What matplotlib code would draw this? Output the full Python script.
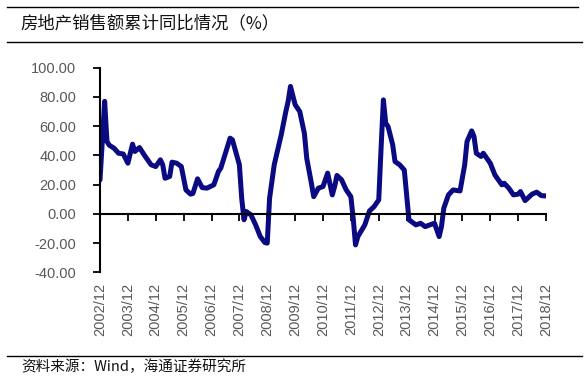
import matplotlib
matplotlib.use("Agg")
import matplotlib.pyplot as plt
from matplotlib.lines import Line2D

plt.rcParams['font.family'] = ['Liberation Sans', 'Noto Sans CJK SC', 'DejaVu Sans']

dates = ["2002-12", "2003-02", "2003-03", "2003-04", "2003-06", "2003-08", "2003-10", "2003-12",
         "2004-02", "2004-03", "2004-05", "2004-07", "2004-10", "2004-12",
         "2005-02", "2005-03", "2005-04", "2005-06", "2005-07", "2005-09", "2005-11",
         "2006-01", "2006-03", "2006-04", "2006-06", "2006-08", "2006-10",
         "2007-01", "2007-03", "2007-04", "2007-06", "2007-08", "2007-09", "2007-12",
         "2008-01", "2008-02", "2008-03", "2008-05", "2008-07", "2008-09", "2008-11", "2008-12",
         "2009-01", "2009-03", "2009-06", "2009-08", "2009-09", "2009-10", "2009-12",
         "2010-02", "2010-04", "2010-05", "2010-07", "2010-08", "2010-10", "2010-12",
         "2011-02", "2011-04", "2011-05", "2011-06", "2011-08", "2011-10", "2011-12",
         "2012-01", "2012-02", "2012-03", "2012-06", "2012-08", "2012-10", "2012-12",
         "2013-01", "2013-02", "2013-03", "2013-04", "2013-06", "2013-07", "2013-09", "2013-11", "2013-12",
         "2014-01", "2014-04", "2014-06", "2014-08", "2014-10", "2014-12",
         "2015-02", "2015-03", "2015-04", "2015-06", "2015-08", "2015-11",
         "2016-01", "2016-02", "2016-04", "2016-05", "2016-06", "2016-08", "2016-09", "2016-12",
         "2017-02", "2017-03", "2017-05", "2017-06", "2017-08", "2017-10", "2017-12",
         "2018-01", "2018-03", "2018-06", "2018-08", "2018-10", "2018-12"]
values = [23.3, 77.0, 49.5, 47.0, 45.0, 41.5, 41.0, 34.7,
          47.7, 42.7, 45.4, 40.4, 33.6, 32.4,
          37.0, 33.6, 24.4, 25.6, 35.4, 34.7, 32.4,
          16.4, 13.5, 14.0, 24.0, 18.0, 17.6,
          19.9, 29.0, 31.3, 41.5, 51.8, 50.7, 33.6,
          10.7, -4.0, 1.6, -0.7, -7.5, -15.5, -19.6, -20.0,
          10.7, 33.6, 54.0, 70.0, 77.0, 87.2, 74.7,
          70.0, 55.0, 38.0, 21.0, 11.8, 17.6, 18.7,
          27.9, 13.0, 18.7, 26.3, 23.3, 16.4, 11.8,
          -3.0, -21.2, -15.5, -7.5, 2.0, 5.0, 9.6,
          45.0, 78.0, 62.0, 59.8, 47.3, 35.8, 33.6, 30.0, 13.0,
          -4.0, -7.5, -6.4, -8.7, -7.5, -6.4,
          -15.5, -8.7, 3.9, 13.0, 16.4, 15.7,
          33.6, 49.5, 56.8, 53.0, 41.5, 39.3, 41.5, 34.7,
          26.7, 24.4, 19.9, 21.0, 17.6, 13.0, 13.5,
          15.3, 9.1, 13.5, 14.9, 12.5, 12.3]
tick_labels = [f"{y}/12" for y in range(2002, 2019)]
y_ticks = [-40, -20, 0, 20, 40, 60, 80, 100]

def to_x(s):
    y, m = s.split("-")
    return int(y) + (int(m) - 1) / 12.0

xs = [to_x(d) for d in dates]
tick_x = [to_x(f"{y}-12") for y in range(2002, 2019)]

fig = plt.figure(figsize=(5.85, 3.84), dpi=100)
ax = fig.add_axes([100/585, 1-272.4/384, (546-100)/585, (272.4-67.7)/384])
ax.plot(xs, values, color='#0a0a82', lw=3.6, solid_joinstyle='round', solid_capstyle='round')
ax.set_xlim(tick_x[0], tick_x[-1])
ax.set_ylim(-40, 100)
ax.set_yticks(y_ticks)
ax.set_yticklabels([f"{v:.2f}" for v in y_ticks], fontsize=10.5, color='#595959')
ax.set_xticks(tick_x)
ax.set_xticklabels([])
for s in ['top', 'right']:
    ax.spines[s].set_visible(False)
ax.spines['bottom'].set_position(('data', 0))
ax.spines['bottom'].set_linewidth(1.5)
ax.spines['left'].set_linewidth(1.5)
ax.tick_params(axis='both', direction='out', length=5, width=1.3, pad=12)
for x, lab in zip(tick_x, tick_labels):
    ax.text(x, -47, lab, rotation=90, ha='center', va='top', fontsize=10.5,
            color='#595959', transform=ax.transData, clip_on=False)

# title and source decorations
fig.add_artist(Line2D([7/585, 578/585], [1-7.3/384, 1-7.3/384], color='black', lw=1.0))
fig.add_artist(Line2D([7/585, 582/585], [1-42/384, 1-42/384], color='black', lw=1.0))
fig.add_artist(Line2D([7/585, 582/585], [1-355.7/384, 1-355.7/384], color='black', lw=1.0))
fig.text(20/585, 1-23.5/384, "房地产销售额累计同比情况（%）", fontsize=12.5, fontweight='medium',
         family=['Noto Sans CJK SC', 'DejaVu Sans'], ha='left', va='center', color='#111111')
fig.text(21/585, 1-366.7/384, "资料来源：Wind，海通证券研究所", fontsize=10.5,
         family=['Noto Sans CJK SC', 'DejaVu Sans'], ha='left', va='center', color='#111111')

fig.savefig("out.png", dpi=100)
